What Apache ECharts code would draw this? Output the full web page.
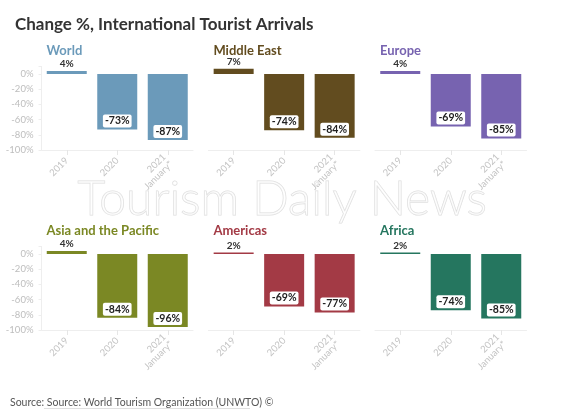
<!DOCTYPE html>
<html>
<head>
<meta charset="utf-8">
<script src="https://cdn.jsdelivr.net/npm/echarts@6/dist/echarts.min.js"></script>
<style>
  html, body { margin: 0; padding: 0; background: #fff; }
  #chart { width: 569px; height: 409px; }
</style>
</head>
<body>
<div id="chart"></div>
<script>
// ---- data ----
var categories = ['2019', '2020', '2021\nJanuary*'];
var regions = ['World', 'Middle East', 'Europe', 'Asia and the Pacific', 'Americas', 'Africa'];
var world = [4, -73, -87];
var middleEast = [7, -74, -84];
var europe = [4, -69, -85];
var asiaPacific = [4, -84, -96];
var americas = [2, -69, -77];
var africa = [2, -74, -85];
var yTickLabels = [0, -20, -40, -60, -80, -100];
var regionColors = ['#6b9aba', '#624c1f', '#7763b0', '#7b8824', '#a33a45', '#25765f'];

var seriesValues = [world, middleEast, europe, asiaPacific, americas, africa];

// ---- layout ----
var FONT = 'Lato';
var lefts = [41.5, 208.4, 375];
var tops = [66.4, 246.4];
var gw = 151.5, gh = 83.6;

var grids = [], xAxes = [], yAxes = [], series = [], titles = [];

titles.push({
  text: 'Change %, International Tourist Arrivals',
  left: 10, top: 11,
  textStyle: { fontFamily: FONT, fontSize: 17, fontWeight: 'bold', color: '#333' }
});

for (var i = 0; i < 6; i++) {
  var col = i % 3, row = Math.floor(i / 3);
  grids.push({ left: lefts[col], top: tops[row], width: gw, height: gh });
  titles.push({
    text: regions[i],
    left: lefts[col], top: tops[row] - 27,
    textStyle: { fontFamily: FONT, fontSize: 13, fontWeight: 'bold', color: regionColors[i] }
  });
  xAxes.push({
    type: 'category', gridIndex: i, data: categories,
    axisLine: { onZero: false, lineStyle: { color: '#eeeeee' } },
    axisTick: { show: true, alignWithLabel: true, length: 5, lineStyle: { color: '#e6e6e6' } },
    axisLabel: { rotate: 45, fontFamily: FONT, fontSize: 9.5, color: '#c4c4c4', margin: 9, lineHeight: 10 }
  });
  yAxes.push({
    type: 'value', gridIndex: i, min: -100, max: 10, interval: 20,
    splitLine: { show: false },
    axisLine: { show: col === 0, lineStyle: { color: '#eeeeee' } },
    axisTick: { show: col === 0, length: 3, lineStyle: { color: '#eeeeee' } },
    axisLabel: {
      show: col === 0, fontFamily: FONT, fontSize: 9.5, color: '#bdbdbd', margin: 8,
      formatter: function (v) { return yTickLabels.indexOf(v) >= 0 ? v + '%' : ''; }
    }
  });
  var vals = seriesValues[i];
  series.push({
    type: 'bar', xAxisIndex: i, yAxisIndex: i,
    barWidth: 40,
    itemStyle: { color: regionColors[i] },
    data: vals.map(function (v) {
      return {
        value: v,
        label: v >= 0 ? {
          show: true, position: 'top', distance: 2,
          fontFamily: FONT, fontSize: 10, fontWeight: 'bold', color: '#333',
          formatter: '{c}%'
        } : {
          show: true, position: 'insideBottom', distance: 2,
          fontFamily: FONT, fontSize: 10.5, fontWeight: 'bold', color: '#222',
          backgroundColor: '#ffffff', padding: [1, 2], borderRadius: 2,
          formatter: '{c}%'
        }
      };
    })
  });
}

var chart = echarts.init(document.getElementById('chart'), null, { renderer: 'canvas' });
chart.setOption({
  backgroundColor: '#ffffff',
  animation: false,
  title: titles,
  grid: grids,
  xAxis: xAxes,
  yAxis: yAxes,
  series: series,
  graphic: [
    {
      type: 'text', left: 77, top: 175, z: 100, silent: true,
      style: {
        text: 'Tourism Daily News',
        font: '300 48px Lato',
        fill: 'rgba(255,255,255,0.55)',
        stroke: '#dcdcdc', lineWidth: 1
      }
    },
    {
      type: 'text', left: 10, top: 397,
      style: {
        text: 'Source: Source: World Tourism Organization (UNWTO) \u00a9',
        font: '10.5px Lato', fill: '#555'
      }
    },
    {
      type: 'line', z: 10,
      shape: { x1: 44, y1: 409, x2: 250, y2: 409 },
      style: { stroke: '#999', lineWidth: 0.6 }
    }
  ]
});
</script>
</body>
</html>
